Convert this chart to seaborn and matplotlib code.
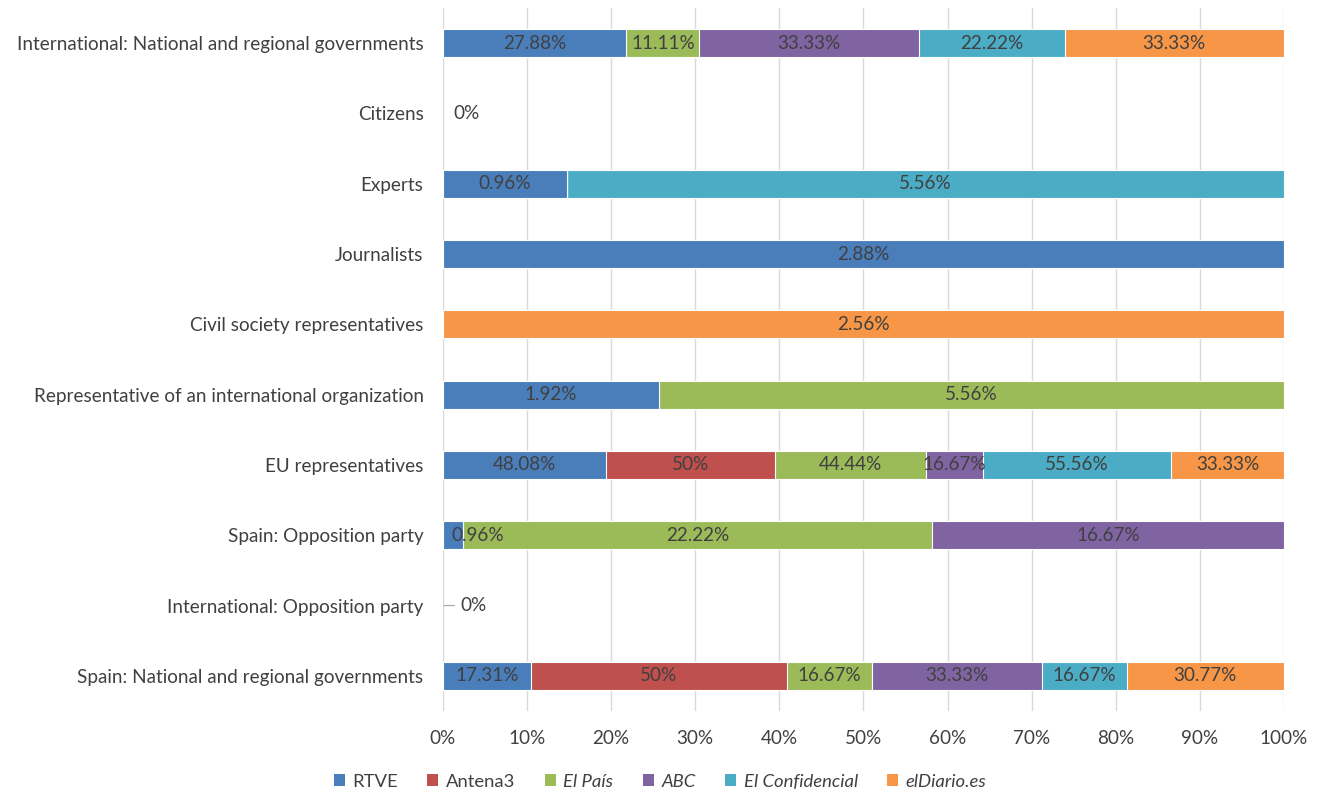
import numpy as np
import pandas as pd
import matplotlib
matplotlib.use("Agg")
import matplotlib.pyplot as plt
import seaborn as sns
from matplotlib.patches import Patch

categories = [
    "International: National and regional governments",
    "Citizens",
    "Experts",
    "Journalists",
    "Civil society representatives",
    "Representative of an international organization",
    "EU representatives",
    "Spain: Opposition party",
    "International: Opposition party",
    "Spain: National and regional governments",
]
outlets = ["RTVE", "Antena3", "El País", "ABC", "El Confidencial", "elDiario.es"]

rtve = [27.88, 0, 0.96, 2.88, 0, 1.92, 48.08, 0.96, 0, 17.31]
antena3 = [0, 0, 0, 0, 0, 0, 50, 0, 0, 50]
el_pais = [11.11, 0, 0, 0, 0, 5.56, 44.44, 22.22, 0, 16.67]
abc = [33.33, 0, 0, 0, 0, 0, 16.67, 16.67, 0, 33.33]
el_confidencial = [22.22, 0, 5.56, 0, 0, 0, 55.56, 0, 0, 16.67]
eldiario = [33.33, 0, 0, 0, 2.56, 0, 33.33, 0, 0, 30.77]

colors = ["#4A7EBB", "#C0504D", "#9BBB59", "#8064A2", "#4BACC6", "#F79646"]
italic = [False, False, True, True, True, True]

values = np.array([rtve, antena3, el_pais, abc, el_confidencial, eldiario], dtype=float)
totals = values.sum(axis=0)
shares = np.divide(values, totals, out=np.zeros_like(values), where=totals > 0)
cum = np.cumsum(shares, axis=0)

sns.set_theme(style="white")
plt.rcParams["font.family"] = ["Lato", "DejaVu Sans"]
text_color = "#404040"
fs = 13.6

fig = plt.figure(figsize=(13.2, 7.92), dpi=100)
ax = fig.add_axes([0.3356, 0.1023, 0.9727 - 0.3356, 0.9899 - 0.1023])

# Overlay cumulative totals from the last outlet to the first to build 100% stacks
for i in range(len(outlets) - 1, -1, -1):
    df = pd.DataFrame({"category": categories, "share": cum[i]})
    sns.barplot(data=df, x="share", y="category", order=categories, orient="h",
                color=colors[i], saturation=1, width=0.4, ax=ax,
                edgecolor="white", linewidth=0.8)

# Hide empty bars so their edges don't cover the gridline at 0
for p in ax.patches:
    if p.get_width() == 0:
        p.set_visible(False)

# Data labels
for r, cat in enumerate(categories):
    if totals[r] == 0:
        continue
    for i in range(len(outlets)):
        v = values[i, r]
        if v <= 0:
            continue
        start = cum[i, r] - shares[i, r]
        mid = start + shares[i, r] / 2
        if shares[i, r] < 0.04:
            # too narrow to hold its label: let it run to the right
            ax.annotate(f"{v:g}%", xy=(start, r), xytext=(6, 0),
                        textcoords="offset points", ha="left", va="center",
                        fontsize=fs, color=text_color)
        else:
            ax.text(mid, r, f"{v:g}%", ha="center", va="center",
                    fontsize=fs, color=text_color)

# Zero-valued categories
ax.text(0.012, categories.index("Citizens"), "0%", ha="left", va="center",
        fontsize=fs, color=text_color)
r0 = categories.index("International: Opposition party")
ax.annotate("0%", xy=(0.001, r0), xytext=(12, 0), textcoords="offset points",
            ha="left", va="center", fontsize=fs, color=text_color,
            arrowprops=dict(arrowstyle="-", color="#A6A6A6", lw=0.8,
                            shrinkA=2, shrinkB=0))

ticks = np.arange(0, 1.01, 0.1)
ax.set_xlim(0, 1)
ax.set_ylim(len(categories) - 0.5, -0.5)
ax.set_xticks(ticks)
ax.set_xticklabels([f"{int(round(t * 100))}%" for t in ticks])
ax.xaxis.grid(True, color="#D9D9D9", linewidth=1)
ax.set_axisbelow(True)
ax.set_xlabel("")
ax.set_ylabel("")
for s in ax.spines.values():
    s.set_visible(False)
ax.tick_params(axis="both", length=0, labelsize=fs, colors=text_color)
ax.tick_params(axis="y", pad=14)
ax.tick_params(axis="x", pad=14)

handles = [Patch(facecolor=c, edgecolor="none") for c in colors]
leg = fig.legend(handles, outlets, loc="center", bbox_to_anchor=(0.5, 0.013),
                 ncol=6, frameon=False, fontsize=13.3, handlelength=0.6,
                 handleheight=0.6, handletextpad=0.4, columnspacing=1.6)
for t, it in zip(leg.get_texts(), italic):
    t.set_color(text_color)
    if it:
        t.set_fontstyle("italic")

fig.savefig("out.png", dpi=100)
